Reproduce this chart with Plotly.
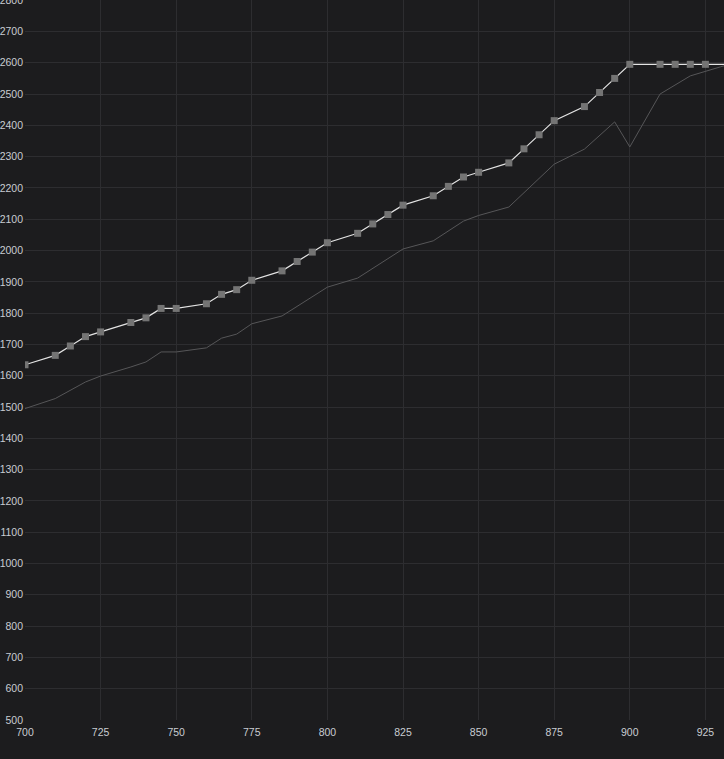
import plotly.graph_objects as go

# Upper series (drawn with square markers)
upper_x = [700, 710, 715, 720, 725, 735, 740, 745, 750, 760, 765, 770, 775,
           785, 790, 795, 800, 810, 815, 820, 825, 835, 840, 845, 850, 860,
           865, 870, 875, 885, 890, 895, 900, 910, 915, 920, 925, 935]
upper_y = [1635, 1665, 1695, 1725, 1740, 1770, 1785, 1815, 1815, 1830, 1860,
           1875, 1905, 1935, 1965, 1995, 2025, 2055, 2085, 2115, 2145, 2175,
           2205, 2235, 2250, 2280, 2325, 2370, 2415, 2460, 2505, 2550, 2595,
           2595, 2595, 2595, 2595, 2595]

# Lower series (plain line)
lower_x = [700, 710, 720, 725, 735, 740, 745, 750, 760, 765, 770, 775, 785,
           800, 810, 825, 835, 845, 850, 860, 875, 885, 895, 900, 910, 920,
           930, 935]
lower_y = [1495, 1527, 1580, 1599, 1628, 1644, 1676, 1676, 1689, 1720, 1733,
           1766, 1791, 1883, 1912, 2005, 2031, 2094, 2112, 2139, 2276, 2324,
           2411, 2331, 2500, 2558, 2587, 2600]

x_ticks = [700, 725, 750, 775, 800, 825, 850, 875, 900, 925]
y_ticks = list(range(500, 2801, 100))

BG = "#1c1c1e"
GRID = "#2d2d30"
TICK_FONT = dict(family="Liberation Sans, Arial, sans-serif", size=10.5, color="#c9ccd2")

fig = go.Figure()
fig.add_trace(go.Scatter(
    x=lower_x, y=lower_y, mode="lines",
    line=dict(color="#565658", width=1),
    hoverinfo="skip", showlegend=False,
))
fig.add_trace(go.Scatter(
    x=upper_x, y=upper_y, mode="lines+markers",
    line=dict(color="#e4e4e4", width=1.2),
    marker=dict(symbol="square", size=7, color="#747474",
                line=dict(width=0)),
    showlegend=False,
))

fig.update_layout(
    width=724, height=759,
    margin=dict(l=25, r=0, t=0, b=39, autoexpand=False),
    paper_bgcolor=BG, plot_bgcolor=BG,
    showlegend=False,
)
fig.update_xaxes(
    range=[700, 931.15], tickvals=x_ticks, ticktext=[str(v) for v in x_ticks],
    showgrid=True, gridcolor=GRID, gridwidth=1, zeroline=False,
    showline=False, ticks="", tickfont=TICK_FONT, automargin=False,
    ticklabelstandoff=4, ticklabeloverflow="allow",
)
fig.update_yaxes(
    range=[500, 2800.5], tickvals=y_ticks, ticktext=[str(v) for v in y_ticks],
    showgrid=True, gridcolor=GRID, gridwidth=1, zeroline=False,
    showline=False, ticks="", tickfont=TICK_FONT, automargin=False,
    ticklabelstandoff=1, ticklabeloverflow="allow",
)

fig.write_html("out.html")
